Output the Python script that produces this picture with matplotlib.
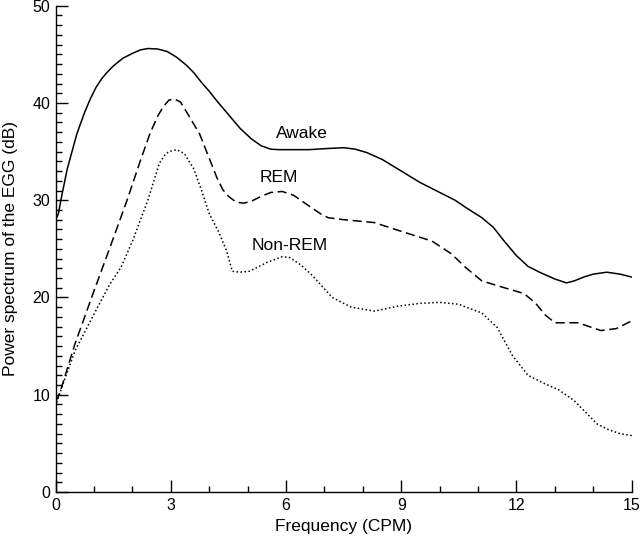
import matplotlib
matplotlib.use("Agg")
import matplotlib.pyplot as plt
from matplotlib.ticker import MultipleLocator

plt.rcParams['font.family'] = ['Liberation Sans', 'DejaVu Sans']

awake_f = [0, 0.07, 0.15, 0.3, 0.55, 0.75, 0.9, 1.05, 1.2, 1.35, 1.5, 1.75, 2.0, 2.2,
           2.4, 2.65, 2.9, 3.15, 3.4, 3.6, 3.8, 4.0, 4.2, 4.5, 4.8, 5.1, 5.35, 5.6,
           5.8, 6.0, 6.6, 7.0, 7.5, 7.8, 8.1, 8.5, 9.0, 9.5, 10.0, 10.4, 10.7, 11.1,
           11.4, 11.7, 12.0, 12.3, 12.6, 13.0, 13.3, 13.5, 13.75, 14.0, 14.35, 14.7,
           15.0]
awake_db = [28.0, 28.6, 30.3, 33.2, 36.8, 39.0, 40.4, 41.6, 42.5, 43.2, 43.8, 44.6,
            45.1, 45.45, 45.6, 45.55, 45.3, 44.7, 43.9, 43.1, 42.1, 41.2, 40.2, 38.8,
            37.4, 36.3, 35.6, 35.25, 35.2, 35.2, 35.2, 35.3, 35.4, 35.25, 34.9, 34.2,
            33.0, 31.8, 30.8, 30.0, 29.2, 28.2, 27.2, 25.7, 24.3, 23.2, 22.6, 21.9,
            21.5, 21.7, 22.1, 22.4, 22.6, 22.4, 22.1]

rem_f = [0, 0.1, 0.5, 1.0, 1.4, 1.85, 2.2, 2.45, 2.65, 2.8, 2.95, 3.1, 3.25, 3.45,
         3.75, 4.0, 4.2, 4.35, 4.5, 4.7, 4.9, 5.1, 5.35, 5.6, 5.9, 6.2, 6.6, 6.9,
         7.1, 7.5, 8.3, 9.0, 9.8, 10.3, 10.7, 11.1, 11.6, 12.2, 12.5, 12.75, 13.0,
         13.6, 13.9, 14.2, 14.6, 15.0]
rem_db = [9.3, 10.1, 15.2, 20.7, 25.0, 29.9, 34.0, 36.8, 38.6, 39.6, 40.3, 40.4,
          40.1, 38.8, 36.8, 34.3, 32.3, 31.1, 30.4, 29.8, 29.7, 29.9, 30.4, 30.8,
          30.9, 30.5, 29.4, 28.6, 28.2, 28.0, 27.7, 26.8, 25.8, 24.5, 23.0, 21.7,
          21.1, 20.4, 19.4, 18.2, 17.4, 17.4, 17.0, 16.6, 16.8, 17.6]

nrem_f = [0, 0.1, 0.5, 1.0, 1.4, 1.7, 2.0, 2.4, 2.7, 2.85, 2.95, 3.15, 3.35, 3.6,
          3.8, 4.0, 4.25, 4.45, 4.6, 4.8, 5.05, 5.5, 5.9, 6.1, 6.4, 6.7, 7.2, 7.7,
          8.3, 8.9, 9.5, 10.0, 10.5, 11.1, 11.5, 11.9, 12.3, 12.7, 13.1, 13.5, 13.8,
          14.1, 14.4, 14.7, 15.0]
nrem_db = [8.8, 10.1, 14.5, 18.3, 21.3, 23.1, 25.8, 30.0, 33.8, 34.7, 35.0, 35.2,
           34.8, 33.2, 31.0, 28.6, 26.7, 24.8, 22.7, 22.6, 22.7, 23.6, 24.2, 24.1,
           23.3, 22.2, 20.0, 19.0, 18.6, 19.1, 19.4, 19.5, 19.3, 18.4, 16.9, 14.0,
           12.0, 11.2, 10.5, 9.4, 8.2, 7.0, 6.4, 6.0, 5.8]

series_labels = ["Awake", "REM", "Non-REM"]

fig = plt.figure(figsize=(6.4, 5.39), dpi=100)
ax = fig.add_axes([0.087, 0.0872, 0.900, 0.9022])

ax.plot(awake_f, awake_db, color='black', lw=1.1, ls='-')
ax.plot(rem_f, rem_db, color='black', lw=1.1, ls=(0, (6, 3)))
ax.plot(nrem_f, nrem_db, color='black', lw=1.1, ls=(0, (1, 1.6)))

ax.text(6.4, 36.9, series_labels[0], ha='center', va='center', fontsize=12.5)
ax.text(5.82, 32.3, series_labels[1], ha='center', va='center', fontsize=12.5)
ax.text(6.09, 25.3, series_labels[2], ha='center', va='center', fontsize=12.5)

ax.set_xlim(0, 15)
ax.set_ylim(0, 50)
ax.xaxis.set_major_locator(MultipleLocator(3))
ax.xaxis.set_minor_locator(MultipleLocator(1))
ax.yaxis.set_major_locator(MultipleLocator(10))
ax.yaxis.set_minor_locator(MultipleLocator(1))
ax.tick_params(which='major', direction='in', length=8.6, width=1, labelsize=11.5)
ax.tick_params(which='minor', direction='in', length=4.2, width=1)
ax.tick_params(axis='x', which='major', pad=4.5)
ax.tick_params(axis='y', which='major', pad=4)

for s in ['top', 'right']:
    ax.spines[s].set_visible(False)
for s in ['left', 'bottom']:
    ax.spines[s].set_linewidth(1)

ax.set_xlabel("Frequency (CPM)", fontsize=12.5)
ax.set_ylabel("Power spectrum of the EGG (dB)", fontsize=12.5)
ax.xaxis.set_label_coords(0.5, -0.056)
ax.yaxis.set_label_coords(-0.066, 0.5)

fig.savefig("out.png", dpi=100)
